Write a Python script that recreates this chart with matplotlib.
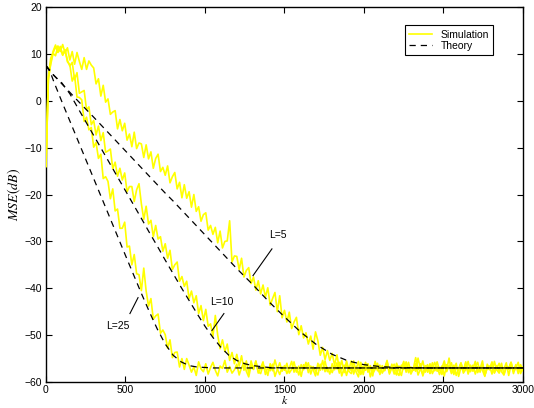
import numpy as np
import matplotlib
matplotlib.use("Agg")
import matplotlib.pyplot as plt

plt.rcParams["font.family"] = ["Liberation Sans", "DejaVu Sans"]
plt.rcParams["mathtext.fontset"] = "stix"
plt.rcParams["font.size"] = 7.5

# simulated learning curves (dB), one sample every 15 iterations, k = 0..3000
STEP = 15
sim_L25 = [
    -14.0, 4.5, 8.2, 10.6, 11.9, 10.4, 11.6, 9.8, 10.9, 8.3,
    7.7, 4.2, 5.4, 0.8, 0.7, 0.2, -4.4, -3.5, -6.2, -5.7,
    -9.9, -8.9, -12.3, -11.4, -16.6, -16.2, -17.2, -20.9, -18.8, -23.5,
    -23.1, -27.2, -27.2, -25.9, -31.2, -31.0, -35.0, -32.8, -36.9, -37.1,
    -40.5, -35.7, -40.6, -43.8, -42.2, -46.6, -45.9, -45.5, -49.6, -48.9,
    -49.9, -52.8, -51.0, -54.8, -53.7, -53.6, -56.8, -55.0, -57.3, -55.0,
    -56.4, -57.9, -56.8, -58.6, -55.7, -57.2, -57.8, -56.1, -58.3, -56.9,
    -55.8, -57.5, -58.7, -56.6, -57.1, -55.4, -57.9, -56.7, -58.1, -57.4,
    -56.2, -58.5, -56.9, -55.9, -57.7, -58.9, -56.5, -57.3, -55.6, -57.8,
    -58.2, -56.4, -57.0, -58.6, -56.1, -57.6, -55.3, -57.2, -58.4, -56.8,
    -57.5, -56.0, -58.1, -57.3, -55.7, -57.9, -56.6, -58.8, -56.3, -57.1,
    -55.9, -58.3, -56.7, -57.6, -58.5, -56.2, -57.4, -55.5, -57.8, -56.9,
    -58.0, -56.5, -57.2, -55.8, -58.7, -57.0, -56.3, -57.7, -58.2, -56.6,
    -57.3, -55.6, -58.4, -56.8, -57.5, -56.1, -58.9, -57.1, -55.9, -57.6,
    -56.4, -58.1, -57.0, -55.4, -57.8, -56.7, -58.3, -56.0, -57.4, -58.6,
    -56.2, -57.3, -55.8, -58.0, -56.9, -57.7, -54.9, -57.2, -58.4, -56.5,
    -57.9, -56.1, -58.2, -57.1, -55.7, -57.5, -56.6, -58.7, -56.3, -57.0,
    -55.9, -58.4, -56.8, -57.6, -56.0, -58.1, -57.3, -55.6, -57.8, -56.4,
    -58.3, -56.7, -57.2, -55.5, -58.6, -56.9, -57.4, -56.2, -58.0, -57.1,
    -56.0, -57.8, -58.5, -56.6, -57.0, -55.8, -57.6, -56.3, -58.2, -56.9,
    -57.4,
]
sim_L10 = [
    -14.0, 5.2, 9.1, 10.2, 11.6, 10.3, 11.4, 9.7, 10.8, 8.6,
    7.4, 8.2, 4.5, 6.0, 1.6, 1.9, 2.2, -1.9, -1.3, -5.1,
    -4.2, -7.3, -5.4, -8.5, -6.8, -11.0, -10.7, -10.3, -14.5, -13.1,
    -16.1, -14.4, -16.9, -15.4, -19.4, -18.3, -18.3, -21.5, -19.0, -17.7,
    -22.0, -25.3, -22.5, -26.3, -25.5, -29.0, -26.6, -29.5, -29.0, -32.1,
    -30.5, -33.6, -31.9, -36.0, -35.0, -34.4, -38.5, -37.5, -39.6, -38.5,
    -42.2, -40.6, -43.1, -41.6, -45.4, -43.7, -46.9, -44.5, -48.1, -47.6,
    -50.3, -45.8, -50.0, -52.9, -51.0, -53.5, -51.9, -55.4, -53.7, -56.1,
    -54.1, -56.6, -54.4, -57.5, -55.5, -58.2, -55.5, -57.3, -55.5, -58.1,
    -57.0, -55.7, -58.4, -56.9, -57.6, -56.2, -58.8, -57.3, -55.9, -57.7,
    -56.5, -58.2, -57.1, -55.6, -57.9, -56.8, -58.5, -56.3, -57.4, -55.8,
    -58.0, -56.6, -57.3, -58.7, -56.0, -57.5, -55.4, -57.8, -56.9, -58.3,
    -56.1, -57.4, -55.9, -58.1, -57.0, -56.4, -58.6, -56.7, -57.6, -55.5,
    -57.8, -58.9, -56.3, -57.2, -55.8, -57.9, -56.5, -58.2, -57.3, -56.0,
    -58.4, -56.9, -57.5, -55.7, -58.0, -56.2, -57.7, -58.5, -56.6, -57.1,
    -55.6, -57.9, -56.8, -58.3, -57.2, -54.8, -57.4, -56.1, -58.7, -57.0,
    -56.3, -58.1, -55.9, -57.6, -56.7, -58.4, -57.0, -55.5, -57.8, -56.5,
    -58.2, -57.3, -56.0, -58.8, -56.9, -57.5, -55.7, -58.0, -56.4, -57.7,
    -56.8, -55.8, -57.9, -56.2, -58.5, -57.1, -56.6, -58.3, -55.6, -57.4,
    -58.1, -56.7, -57.2, -55.9, -58.6, -56.4, -57.8, -57.0, -55.8, -58.2,
    -56.8,
]
sim_L5 = [
    -14.0, 4.9, 7.8, 10.1, 9.6, 11.7, 10.5, 12.0, 10.2, 11.3,
    8.7, 10.5, 7.8, 10.3, 8.4, 6.7, 9.2, 6.7, 8.5, 7.6,
    7.0, 3.6, 4.7, 1.0, 3.3, -0.3, 0.4, -2.9, -2.4, -2.1,
    -6.0, -4.0, -6.4, -4.8, -8.4, -7.1, -9.8, -6.7, -10.2, -9.0,
    -9.2, -12.1, -9.4, -12.4, -10.9, -14.4, -12.3, -11.4, -15.1, -14.2,
    -15.9, -13.9, -17.5, -16.2, -15.3, -18.8, -17.4, -20.7, -17.9, -20.8,
    -19.4, -22.7, -20.0, -23.6, -22.6, -25.7, -24.3, -23.9, -27.6, -26.6,
    -28.5, -27.0, -30.3, -27.8, -31.4, -30.0, -29.9, -25.6, -34.4, -33.1,
    -33.2, -36.0, -33.6, -37.6, -36.2, -35.6, -39.0, -37.6, -40.4, -38.4,
    -41.2, -39.3, -41.9, -39.9, -43.6, -42.2, -40.9, -45.0, -41.6, -46.3,
    -44.7, -47.2, -45.1, -48.6, -47.2, -46.2, -49.9, -48.0, -50.6, -49.5,
    -51.9, -50.2, -53.0, -49.3, -51.2, -54.3, -52.6, -55.2, -53.3, -55.4,
    -53.9, -56.4, -54.2, -57.3, -55.4, -58.0, -55.5, -57.4, -55.5, -58.3,
    -56.7, -57.9, -55.8, -58.4, -56.3, -57.5, -56.9, -58.7, -55.6, -57.2,
    -58.1, -56.5, -57.6, -55.9, -58.3, -57.0, -56.2, -57.8, -58.6, -56.4,
    -57.3, -55.7, -58.0, -56.8, -57.5, -56.1, -58.5, -57.2, -55.5, -57.9,
    -56.6, -58.2, -57.0, -55.8, -57.7, -56.9, -58.4, -56.3, -57.4, -54.9,
    -57.8, -56.4, -58.6, -57.1, -55.9, -57.6, -56.0, -58.3, -56.8, -57.3,
    -55.6, -58.0, -56.7, -57.5, -58.8, -56.2, -57.1, -55.7, -58.1, -56.5,
    -57.7, -56.0, -58.4, -56.9, -57.3, -55.8, -58.2, -56.6, -57.5, -56.3,
    -57.6,
]

# theoretical MSE curves
theory_k = [
    0, 25, 50, 100, 150, 200, 300, 400, 500, 600, 650, 700, 750, 800,
    850, 900, 950, 1000, 1050, 1100, 1150, 1200, 1250, 1300, 1400, 1500,
    1600, 1700, 1800, 1900, 2000, 2100, 2200, 2400, 2600, 2800, 3000,
]
theory_L25 = [
    7.5, 6.3, 4.0, -0.2, -4.3, -8.4, -16.6, -24.8, -33.0, -41.1, -45.0,
    -48.7, -51.9, -54.3, -55.7, -56.5, -56.8, -56.9, -57.0, -57.0, -57.0,
    -57.0, -57.0, -57.0, -57.0, -57.0, -57.0, -57.0, -57.0, -57.0, -57.0,
    -57.0, -57.0, -57.0, -57.0, -57.0, -57.0,
]
theory_L10 = [
    7.5, 6.5, 5.4, 3.8, 1.5, -1.5, -7.4, -13.3, -19.2, -25.1, -28.1,
    -31.0, -34.0, -36.9, -39.8, -42.6, -45.4, -48.1, -50.5, -52.6, -54.3,
    -55.4, -56.1, -56.5, -56.9, -57.0, -57.0, -57.0, -57.0, -57.0, -57.0,
    -57.0, -57.0, -57.0, -57.0, -57.0, -57.0,
]
theory_L5 = [
    7.5, 6.3, 5.4, 3.6, 1.8, 0.0, -3.5, -7.1, -10.7, -14.3, -16.1,
    -17.9, -19.7, -21.4, -23.2, -25.0, -26.8, -28.6, -30.4, -32.2, -34.0,
    -35.8, -37.5, -39.2, -42.8, -46.1, -49.3, -52.0, -54.1, -55.5, -56.3,
    -56.7, -56.9, -57.0, -57.0, -57.0, -57.0,
]

fig = plt.figure(figsize=(5.34, 4.08), dpi=100)
ax = fig.add_axes([0.0861, 0.0637, 0.8933, 0.9191])

# yellow traces sit above the spines (the k=0 rise covers the left axis)
sim_style = dict(color="#ffff00", linewidth=1.2, zorder=3)
for i, sim in enumerate([sim_L25, sim_L10, sim_L5]):
    k = np.arange(len(sim)) * STEP
    ax.plot(k, sim, label="Simulation" if i == 0 else None, **sim_style)

theory_style = dict(color="black", linewidth=0.9, dashes=(5, 4), zorder=4)
for i, th in enumerate([theory_L25, theory_L10, theory_L5]):
    ax.plot(theory_k, th, label="Theory" if i == 0 else None, **theory_style)

# curve labels with leader lines
labels = [
    ("L=5", (1459, -28.6), [(1421, -31.6), (1302, -37.3)]),
    ("L=10", (1107, -42.9), [(1119, -45.4), (1044, -49.0)]),
    ("L=25", (453, -48.0), [(579, -42.0), (528, -45.4)]),
]
for text, pos, seg in labels:
    ax.plot([seg[0][0], seg[1][0]], [seg[0][1], seg[1][1]],
            color="black", linewidth=0.8, zorder=5)
    ax.text(pos[0], pos[1], text, ha="center", va="center")

ax.set_xlim(0, 3000)
ax.set_ylim(-60, 20)
ax.set_xticks(np.arange(0, 3001, 500))
ax.set_yticks(np.arange(-60, 21, 10))
ax.tick_params(direction="in", top=True, right=True, length=4, width=0.8)
ax.tick_params(axis="x", pad=2)
ax.tick_params(axis="y", pad=3)
for sp in ax.spines.values():
    sp.set_linewidth(1.0)

ax.set_xlabel("$k$", fontsize=8.5, labelpad=0)
ax.set_ylabel("$MSE(dB)$", fontsize=10, labelpad=1)

leg = ax.legend(loc="upper right", bbox_to_anchor=(0.948, 0.965),
                fancybox=False, framealpha=1, edgecolor="black",
                handlelength=2.2, handletextpad=0.8, borderpad=0.4,
                labelspacing=0.15, fontsize=7.5)
leg.get_frame().set_linewidth(0.8)
leg.set_zorder(6)

fig.savefig("out.png", dpi=100)
